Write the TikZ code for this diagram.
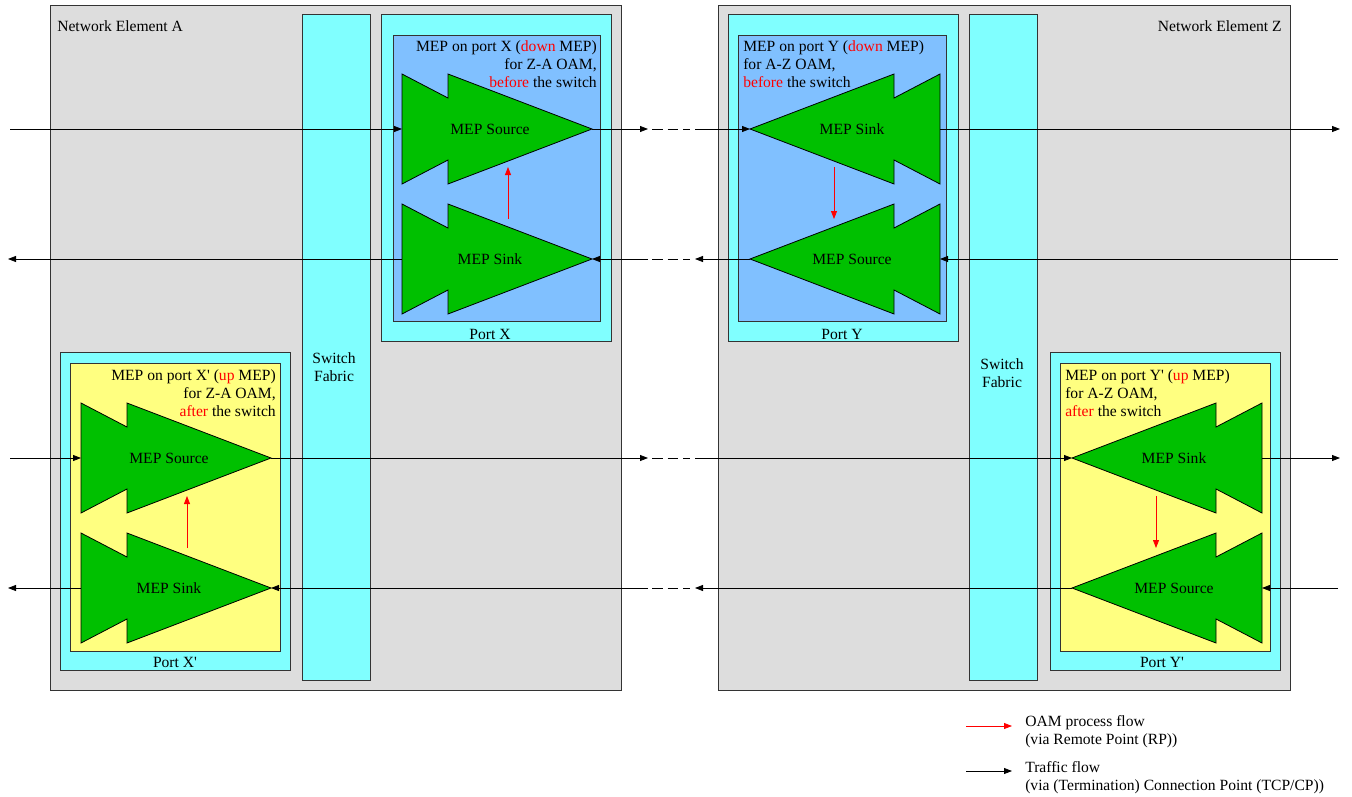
\documentclass[tikz,border=0pt]{standalone}
\usepackage{fontspec}
\setmainfont{Liberation Serif}
\usetikzlibrary{arrows.meta}
\definecolor{negray}{RGB}{221,221,221}
\definecolor{swcyan}{RGB}{128,255,255}
\definecolor{dnblue}{RGB}{128,192,255}
\definecolor{upyellow}{RGB}{255,255,128}
\definecolor{mepgreen}{RGB}{0,192,0}
\tikzset{
  box/.style={draw=black!80,line width=0.6pt},
  traffic/.style={-{Triangle[length=6pt,width=4.5pt]},line width=0.6pt},
  oam/.style={-{Triangle[length=6pt,width=4.5pt]},red,line width=0.6pt},
  gap/.style={line width=0.6pt,dash pattern=on 8pt off 3.75pt},
  txt/.style={inner sep=0pt},
  mep/.pic={
    \filldraw[fill=mepgreen,draw=black,line width=0.6pt] (0,-55) -- (46,-31) -- (46,-55) -- (190,0)
      -- (46,55) -- (46,31) -- (0,55) -- cycle;
    \coordinate (-b) at (0,0);
    \coordinate (-t) at (190,0);
    \coordinate (-lo) at (106,38);
    \coordinate (-hi) at (106,-40);
    \node[txt] (-l) at (88,0) {#1};
  },
}
\newcommand{\hl}[1]{\textcolor{red}{#1}}
\newcommand{\pr}{\textquotesingle}
\begin{document}
\begin{tikzpicture}[x=0.75pt,y=-0.75pt,font=\fontsize{11.7}{13.5}\selectfont]
  \useasboundingbox (0,0) rectangle (1352,796);
  % network elements
  \filldraw[box,fill=negray] (50,5) rectangle (621,690);
  \filldraw[box,fill=negray] (718,5) rectangle (1290,690);
  \node[txt,anchor=west] (neA) at (57,26) {Network Element A};
  \node[txt,anchor=east] (neZ) at (1282,26) {Network Element Z};
  % switch fabrics
  \filldraw[box,fill=swcyan] (302,14) rectangle (370,680);
  \filldraw[box,fill=swcyan] (969,14) rectangle (1037,680);
  \node[txt,align=center] (swA) at (334,367) {Switch\\Fabric};
  \node[txt,align=center] (swZ) at (1002,373) {Switch\\Fabric};
  % ports
  \filldraw[box,fill=swcyan] (381,14) rectangle (611,341);
  \filldraw[box,fill=dnblue] (393,35) rectangle (600,321);
  \filldraw[box,fill=swcyan] (728,14) rectangle (958,341);
  \filldraw[box,fill=dnblue] (738,35) rectangle (946,321);
  \filldraw[box,fill=swcyan] (60,352) rectangle (290,670);
  \filldraw[box,fill=upyellow] (70,363) rectangle (280,651);
  \filldraw[box,fill=swcyan] (1050,352) rectangle (1280,670);
  \filldraw[box,fill=upyellow] (1060,363) rectangle (1270,651);
  \node[txt] (pX) at (490,334) {Port X};
  \node[txt] (pY) at (842,334) {Port Y};
  \node[txt] (pXp) at (175,662) {Port X\pr};
  \node[txt] (pYp) at (1162,662) {Port Y\pr};
  \node[txt,align=right,anchor=east] (mX) at (597,64) {MEP on port X (\hl{down} MEP)\\for Z-A OAM,\\\hl{before} the switch};
  \node[txt,align=left,anchor=west] (mY) at (743,64) {MEP on port Y (\hl{down} MEP)\\for A-Z OAM,\\\hl{before} the switch};
  \node[txt,align=right,anchor=east] (mXp) at (276,393) {MEP on port X\pr{} (\hl{up} MEP)\\for Z-A OAM,\\\hl{after} the switch};
  \node[txt,align=left,anchor=west] (mYp) at (1065,393) {MEP on port Y\pr{} (\hl{up} MEP)\\for A-Z OAM,\\\hl{after} the switch};
  % MEPs
  \pic (xso) at (402,129) {mep=MEP Source};
  \pic (xsi) at (402,259) {mep=MEP Sink};
  \pic[xscale=-1] (ysi) at (940,129) {mep=MEP Sink};
  \pic[xscale=-1] (yso) at (940,259) {mep=MEP Source};
  \pic (xpso) at (81,458) {mep=MEP Source};
  \pic (xpsi) at (81,588) {mep=MEP Sink};
  \pic[xscale=-1] (ypsi) at (1262,458) {mep=MEP Sink};
  \pic[xscale=-1] (ypso) at (1262,588) {mep=MEP Source};
  % OAM flow
  \draw[oam] (xsi-hi) -- (xso-lo);
  \draw[oam] (xpsi-hi) -- (xpso-lo);
  \draw[oam] (ysi-lo) -- (yso-hi);
  \draw[oam] (ypsi-lo) -- (ypso-hi);
  % traffic
  \coordinate (inA1) at (10,129);   \coordinate (outZ1) at (1340,129);
  \coordinate (inZ2) at (1338,259); \coordinate (outA2) at (8,259);
  \coordinate (inA3) at (10,458);   \coordinate (outZ3) at (1340,458);
  \coordinate (inZ4) at (1338,588); \coordinate (outA4) at (8,588);
  \coordinate (gA1) at (648,129); \coordinate (gZ1) at (695,129);
  \coordinate (gA2) at (648,259); \coordinate (gZ2) at (695,259);
  \coordinate (gA3) at (648,458); \coordinate (gZ3) at (695,458);
  \coordinate (gA4) at (648,588); \coordinate (gZ4) at (695,588);
  \draw[traffic] (inA1) -- (xso-b);
  \draw[traffic] (xso-t) -- (gA1);
  \draw[traffic] (gZ1) -- (ysi-t);
  \draw[traffic] (ysi-b) -- (outZ1);
  \draw[traffic] (inZ2) -- (yso-b);
  \draw[traffic] (yso-t) -- (gZ2);
  \draw[traffic] (gA2) -- (xsi-t);
  \draw[traffic] (xsi-b) -- (outA2);
  \draw[traffic] (inA3) -- (xpso-b);
  \draw[traffic] (xpso-t) -- (gA3);
  \draw[traffic] (gZ3) -- (ypsi-t);
  \draw[traffic] (ypsi-b) -- (outZ3);
  \draw[traffic] (inZ4) -- (ypso-b);
  \draw[traffic] (ypso-t) -- (gZ4);
  \draw[traffic] (gA4) -- (xpsi-t);
  \draw[traffic] (xpsi-b) -- (outA4);
  \draw[gap] ([xshift=3pt]gA1) -- ([xshift=-4pt]gZ1);
  \draw[gap] ([xshift=3pt]gA2) -- ([xshift=-4pt]gZ2);
  \draw[gap] ([xshift=3pt]gA3) -- ([xshift=-4pt]gZ3);
  \draw[gap] ([xshift=3pt]gA4) -- ([xshift=-4pt]gZ4);
  % legend
  \coordinate (lgO1) at (966,726); \coordinate (lgO2) at (1012,726);
  \coordinate (lgT1) at (966,771); \coordinate (lgT2) at (1012,771);
  \draw[oam] (lgO1) -- (lgO2);
  \draw[traffic] (lgT1) -- (lgT2);
  \node[txt,align=left,anchor=west] (lgO) at (1025,732) {OAM process flow\\(via Remote Point (RP))};
  \node[txt,align=left,anchor=west] (lgT) at (1025,778) {Traffic flow\\(via (Termination) Connection Point (TCP/CP))};
\end{tikzpicture}
\end{document}
